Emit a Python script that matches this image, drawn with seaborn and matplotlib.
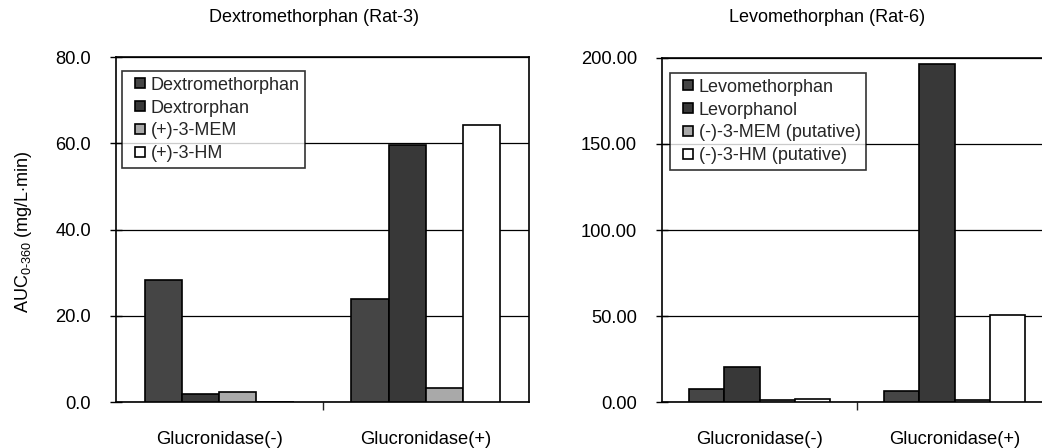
import matplotlib
matplotlib.use("Agg")
import matplotlib.pyplot as plt
import seaborn as sns
import pandas as pd
from matplotlib.patches import Rectangle
from matplotlib.legend_handler import HandlerPatch
from matplotlib.ticker import FormatStrFormatter, FixedLocator

# Conditions on the x axis
conditions = ["Glucronidase(-)", "Glucronidase(+)"]

# Dextromethorphan-dosed rat (Rat-3), AUC values
dex_compounds = ["Dextromethorphan", "Dextrorphan", "(+)-3-MEM", "(+)-3-HM"]
dex_dxm = [28.3, 23.9]
dex_dxo = [1.9, 59.7]
dex_mem = [2.4, 3.2]
dex_hm = [0.0, 64.2]

# Levomethorphan-dosed rat (Rat-6), AUC values
lev_compounds = ["Levomethorphan", "Levorphanol", "(-)-3-MEM (putative)", "(-)-3-HM (putative)"]
lev_lvm = [7.4, 6.4]
lev_lvo = [20.5, 196.5]
lev_mem = [1.0, 1.0]
lev_hm = [1.5, 50.4]

left_title = "Dextromethorphan (Rat-3)"
right_title = "Levomethorphan (Rat-6)"
ylabel = r"AUC$_{\mathregular{0\text{-}360}}$ (mg/L$\cdot$min)"

sns.set_theme(style="white")
plt.rcParams["font.family"] = ["Liberation Sans", "DejaVu Sans"]
plt.rcParams["mathtext.fontset"] = "custom"
plt.rcParams["mathtext.rm"] = "Liberation Sans"
plt.rcParams["mathtext.it"] = "Liberation Sans"

fill_colors = ["#454545", "#383838", "#a9a9a9", "#ffffff"]

W, H = 1042, 448
fig = plt.figure(figsize=(W / 100, H / 100), dpi=100)


def px_axes(x0, x1, ytop, ybot):
    return fig.add_axes([x0 / W, 1 - ybot / H, (x1 - x0) / W, (ybot - ytop) / H])


def square_marker(legend, orig_handle, xdescent, ydescent, width, height, fontsize):
    # small square key drawn at the right end of the handle box
    side = height * 0.95
    return Rectangle((width - side - xdescent, (height - side) / 2 - ydescent), side, side)


def long_table(compounds, series):
    rows = []
    for comp, vals in zip(compounds, series):
        for cond, v in zip(conditions, vals):
            rows.append({"condition": cond, "compound": comp, "value": v})
    return pd.DataFrame(rows)


def draw(ax, compounds, series, ymax, step, fmt, legend_anchor):
    df = long_table(compounds, series)
    sns.barplot(data=df, x="condition", y="value", hue="compound",
                order=conditions, hue_order=compounds,
                palette=fill_colors, width=0.72, gap=0,
                edgecolor="black", linewidth=1.2, saturation=1,
                errorbar=None, ax=ax, zorder=3)
    ax.set_xlim(-0.5, 1.5)
    ax.set_ylim(0, ymax)
    ax.set_yticks([i * step for i in range(int(ymax / step) + 1)])
    ax.yaxis.set_major_formatter(FormatStrFormatter(fmt))
    ax.yaxis.grid(True, color="black", linewidth=0.9, zorder=0)
    ax.set_axisbelow(True)
    ax.set_xlabel("")
    ax.set_ylabel("")
    for s in ax.spines.values():
        s.set_visible(True)
        s.set_color("black")
        s.set_linewidth(1.2)
    ax.tick_params(axis="y", direction="inout", length=8, width=1,
                   pad=14, labelsize=13.2, colors="black", left=True)
    ax.tick_params(axis="x", which="major", length=0, pad=21,
                   labelsize=13.2, colors="black")
    ax.xaxis.set_minor_locator(FixedLocator([0.5]))
    ax.tick_params(axis="x", which="minor", direction="out", length=6,
                   width=1, bottom=True)
    handles, labels = ax.get_legend_handles_labels()
    leg = ax.legend(handles, labels, loc="upper left", bbox_to_anchor=legend_anchor,
                    borderaxespad=0, frameon=True, fancybox=False,
                    edgecolor="black", fontsize=13, handlelength=1.0,
                    handleheight=0.55, handletextpad=0.3,
                    labelspacing=0.33, borderpad=0.3,
                    handler_map={Rectangle: HandlerPatch(patch_func=square_marker)})
    leg.get_frame().set_linewidth(1.2)


ax1 = px_axes(116, 529, 57, 402)
draw(ax1, dex_compounds, [dex_dxm, dex_dxo, dex_mem, dex_hm],
     80, 20, "%.1f", (0.014, 0.959))

ax2 = px_axes(662, 1052, 58, 402)
draw(ax2, lev_compounds, [lev_lvm, lev_lvo, lev_mem, lev_hm],
     200, 50, "%.2f", (0.02, 0.956))

fig.text(314 / W, 1 - 17 / H, left_title, ha="center", va="center",
         fontsize=13, color="black")
fig.text(827 / W, 1 - 17 / H, right_title, ha="center", va="center",
         fontsize=13, color="black")
fig.text(24 / W, 1 - 232 / H, ylabel, ha="center", va="center",
         rotation=90, fontsize=13, color="black")

fig.savefig("out.png", dpi=100)
